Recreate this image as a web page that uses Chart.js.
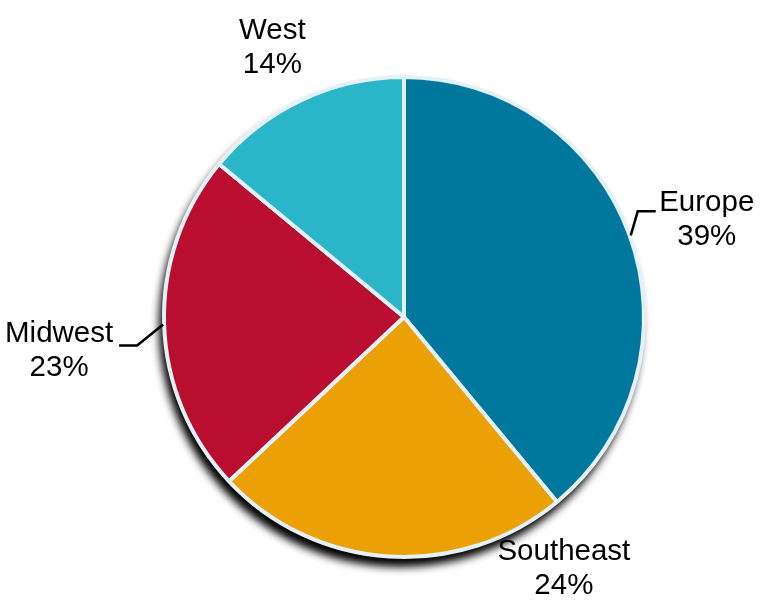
<!DOCTYPE html>
<html>
<head>
<meta charset="utf-8">
<script src="https://cdn.jsdelivr.net/npm/chart.js@4.4.1/dist/chart.umd.min.js"></script>
<style>
  html, body { margin: 0; padding: 0; background: #fff; }
  #wrap { width: 762px; height: 605px; }
</style>
</head>
<body>
<div id="wrap"><canvas id="pie"></canvas></div>
<script>
// données du graphique
const regions = ['Europe', 'Southeast', 'Midwest', 'West'];
const shares = [39, 24, 23, 14];
const sliceColors = ['#00789e', '#eba005', '#b90e2f', '#2bb5c8'];

// placement des étiquettes (décalage depuis le bord extérieur de la part)
const labelLayout = [
  { dx: 76, dy: -16, leader: [[7, -24], [25, -24]] },
  { dx: 175, dy: 11, leader: null },
  { dx: -104, dy: 26, leader: [[-26, 21], [-44, 21]] },
  { dx: -29, dy: -51, leader: null }
];

// ombre portée sous le disque
const shadowPlugin = {
  id: 'shadow',
  beforeDatasetsDraw(chart) {
    const arc = chart.getDatasetMeta(0).data[0];
    if (!arc) return;
    const ctx = chart.ctx;
    ctx.save();
    ctx.shadowColor = 'rgba(0,0,0,1)';
    ctx.shadowBlur = 9;
    ctx.shadowOffsetX = -4;
    ctx.shadowOffsetY = 9;
    ctx.fillStyle = '#e4f1f6';
    ctx.beginPath();
    ctx.arc(arc.x, arc.y, arc.outerRadius + 1, 0, Math.PI * 2);
    ctx.fill();
    ctx.restore();
  }
};

// étiquettes + lignes de rappel
const labelPlugin = {
  id: 'sliceLabels',
  afterDatasetsDraw(chart) {
    const ctx = chart.ctx;
    const arcs = chart.getDatasetMeta(0).data;
    const total = shares.reduce((a, b) => a + b, 0);
    ctx.save();
    ctx.font = '29.5px "Liberation Sans", Arial, sans-serif';
    ctx.fillStyle = '#000';
    ctx.textAlign = 'center';
    ctx.textBaseline = 'middle';
    arcs.forEach((arc, i) => {
      const mid = (arc.startAngle + arc.endAngle) / 2;
      const r = arc.outerRadius + 1;
      const ex = arc.x + Math.cos(mid) * r;
      const ey = arc.y + Math.sin(mid) * r;
      const lay = labelLayout[i];
      const cx = ex + lay.dx;
      const cy = ey + lay.dy;
      ctx.fillText(regions[i], cx, cy - 17);
      ctx.fillText(Math.round(shares[i] / total * 100) + '%', cx, cy + 17);
      if (lay.leader) {
        ctx.strokeStyle = '#000';
        ctx.lineWidth = 2.5;
        ctx.beginPath();
        ctx.moveTo(ex, ey);
        lay.leader.forEach(p => ctx.lineTo(ex + p[0], ey + p[1]));
        ctx.stroke();
      }
    });
    ctx.restore();
  }
};

new Chart(document.getElementById('pie'), {
  type: 'pie',
  data: {
    labels: regions,
    datasets: [{
      data: shares,
      backgroundColor: sliceColors,
      borderColor: '#e4f1f6',
      borderWidth: 4
    }]
  },
  options: {
    responsive: true,
    maintainAspectRatio: false,
    animation: false,
    radius: 240,
    layout: { padding: { left: 46, right: 0, top: 29, bottom: 0 } },
    plugins: {
      legend: { display: false },
      tooltip: { enabled: false }
    }
  },
  plugins: [shadowPlugin, labelPlugin]
});
</script>
</body>
</html>
